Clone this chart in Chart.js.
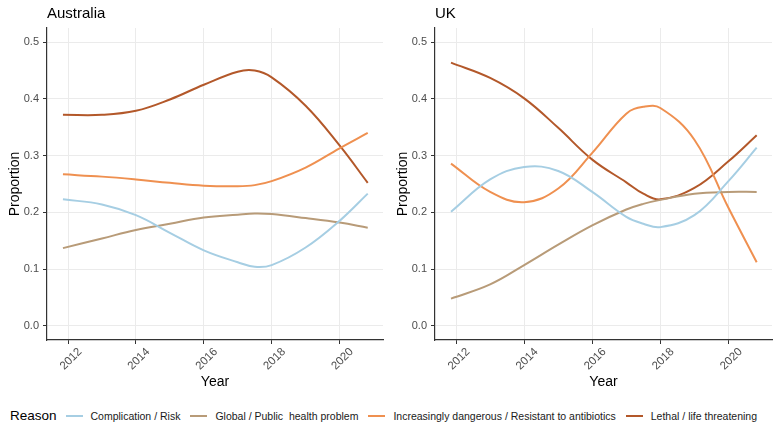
<!DOCTYPE html>
<html>
<head>
<meta charset="utf-8">
<script src="https://cdn.jsdelivr.net/npm/chart.js@4.4.0/dist/chart.umd.min.js"></script>
<style>
  body { margin: 0; background: #fff; font-family: "Liberation Sans", Arial, sans-serif; }
  #wrap { position: relative; width: 777px; height: 426px; overflow: hidden; }
  .panel { position: absolute; top: 0; height: 395px; }
  .ttl { position: absolute; top: 5px; font-size: 15px; line-height: 15px; color: #000; }
  #legend { position: absolute; top: 409px; left: 0; width: 777px; display: flex; justify-content: center; align-items: center; font-size: 10.5px; line-height: 14px; color: #1a1a1a; white-space: pre; }
  #legend .head { font-size: 13.5px; color: #000; margin-right: 9px; }
  #legend .sw { width: 17px; height: 2px; margin-right: 8px; }
  #legend .lab { margin-right: 10px; }
</style>
</head>
<body>
<div id="wrap">
  <canvas id="aus" class="panel" style="left:0" width="386" height="395"></canvas>
  <canvas id="uk" class="panel" style="left:388px" width="389" height="395"></canvas>
  <div class="ttl" style="left:47px">Australia</div>
  <div class="ttl" style="left:435px">UK</div>
  <div id="legend"></div>
</div>
<script>
const years = [2011.85, 2013, 2014, 2015, 2016, 2017, 2017.5, 2018, 2019, 2020, 2020.83];
const xTicks = [2012, 2014, 2016, 2018, 2020];
const yTicks = [0, 0.1, 0.2, 0.3, 0.4, 0.5];

const reasons = [
  "Complication / Risk",
  "Global / Public  health problem",
  "Increasingly dangerous / Resistant to antibiotics",
  "Lethal / life threatening"
];
const colors = ["#a6cee3", "#b89b78", "#ef9050", "#b3582a"];

const ausComplication = [0.223, 0.214, 0.195, 0.164, 0.133, 0.112, 0.104, 0.107, 0.138, 0.185, 0.233];
const ausGlobal = [0.137, 0.154, 0.169, 0.180, 0.191, 0.196, 0.198, 0.197, 0.190, 0.182, 0.173];
const ausIncreasing = [0.267, 0.263, 0.258, 0.252, 0.247, 0.246, 0.248, 0.255, 0.279, 0.313, 0.340];
const ausLethal = [0.372, 0.372, 0.379, 0.399, 0.425, 0.448, 0.450, 0.438, 0.388, 0.318, 0.252];

const ukComplication = [0.201, 0.258, 0.280, 0.273, 0.236, 0.192, 0.180, 0.174, 0.195, 0.255, 0.314];
const ukGlobal = [0.048, 0.073, 0.107, 0.143, 0.177, 0.205, 0.215, 0.222, 0.233, 0.236, 0.236];
const ukIncreasing = [0.286, 0.236, 0.218, 0.242, 0.305, 0.374, 0.386, 0.384, 0.328, 0.208, 0.112];
const ukLethal = [0.464, 0.437, 0.401, 0.349, 0.293, 0.253, 0.233, 0.223, 0.243, 0.290, 0.336];

const family = "'Liberation Sans', Arial, sans-serif";

function makePanel(id, seriesList, rightPad) {
  const datasets = seriesList.map((vals, i) => ({
    label: reasons[i],
    data: years.map((yr, j) => ({ x: yr, y: vals[j] })),
    borderColor: colors[i],
    borderWidth: 2,
    pointRadius: 0,
    tension: 0.4,
    fill: false
  }));

  return new Chart(document.getElementById(id), {
    type: "line",
    data: { datasets },
    options: {
      responsive: false,
      animation: false,
      layout: { padding: { top: 28, right: rightPad, left: 0, bottom: 0 } },
      plugins: { legend: { display: false }, tooltip: { enabled: false } },
      scales: {
        x: {
          type: "linear",
          min: 2011.38,
          max: 2021.28,
          afterBuildTicks: s => { s.ticks = xTicks.map(v => ({ value: v })); },
          afterFit: s => { s.height = 55; },
          ticks: {
            autoSkip: false,
            minRotation: 45,
            maxRotation: 45,
            labelOffset: 12,
            padding: 1,
            color: "#4d4d4d",
            font: { family, size: 11.5 },
            callback: v => String(v)
          },
          grid: { color: "#ebebeb", tickColor: "#333", tickLength: 4 },
          border: { color: "#333", width: 1.2 },
          title: {
            display: true,
            text: "Year",
            color: "#000",
            font: { family, size: 14 },
            padding: { top: 4, bottom: 4 }
          }
        },
        y: {
          min: -0.025,
          max: 0.525,
          afterBuildTicks: s => { s.ticks = yTicks.map(v => ({ value: v })); },
          afterFit: s => { s.width = 47; },
          ticks: {
            padding: 4,
            color: "#4d4d4d",
            font: { family, size: 11 },
            callback: v => v.toFixed(1)
          },
          grid: { color: "#ebebeb", tickColor: "#333", tickLength: 4 },
          border: { color: "#333", width: 1.2 },
          title: {
            display: true,
            text: "Proportion",
            color: "#000",
            font: { family, size: 14 },
            padding: { top: 7, bottom: 7 }
          }
        }
      }
    }
  });
}

makePanel("aus", [ausComplication, ausGlobal, ausIncreasing, ausLethal], 3);
makePanel("uk", [ukComplication, ukGlobal, ukIncreasing, ukLethal], 5);

// legend along the bottom
const legend = document.getElementById("legend");
const head = document.createElement("span");
head.className = "head";
head.textContent = "Reason";
legend.appendChild(head);
reasons.forEach((r, i) => {
  const sw = document.createElement("span");
  sw.className = "sw";
  sw.style.background = colors[i];
  legend.appendChild(sw);
  const lab = document.createElement("span");
  lab.className = "lab";
  lab.textContent = r;
  legend.appendChild(lab);
});
</script>
</body>
</html>
